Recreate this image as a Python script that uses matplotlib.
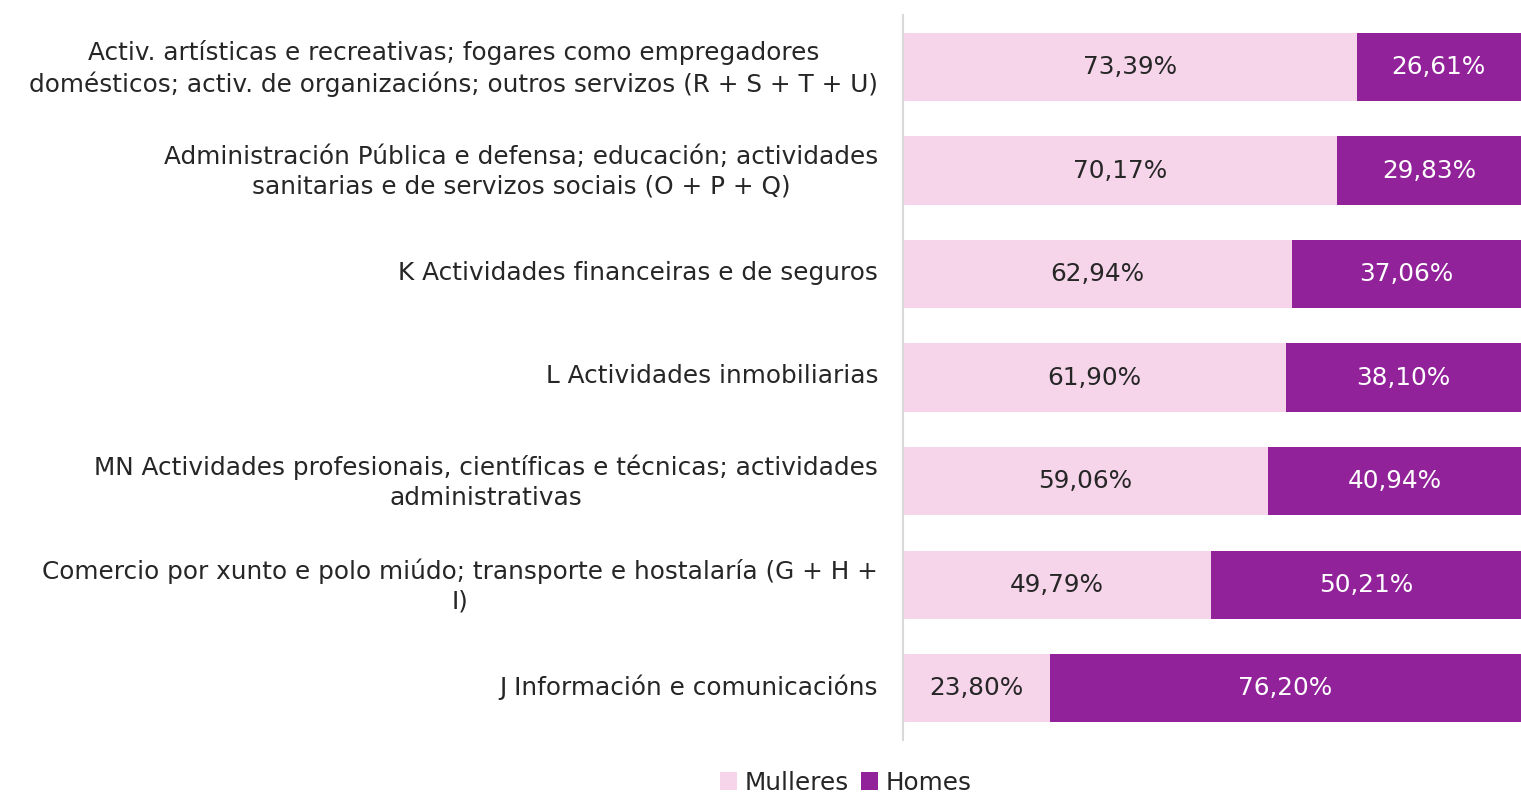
import matplotlib.pyplot as plt
import matplotlib.transforms as mtransforms
import numpy as np

plt.rcParams['font.family'] = ['DejaVu Sans']

categories = [
    'Activ. artísticas e recreativas; fogares como empregadores\ndomésticos; activ. de organizacións; outros servizos (R + S + T + U)',
    'Administración Pública e defensa; educación; actividades\nsanitarias e de servizos sociais (O + P + Q)',
    'K Actividades financeiras e de seguros',
    'L Actividades inmobiliarias',
    'MN Actividades profesionais, científicas e técnicas; actividades\nadministrativas',
    'Comercio por xunto e polo miúdo; transporte e hostalaría (G + H +\nI)',
    'J Información e comunicacións',
]
mulleres = [73.39, 70.17, 62.94, 61.90, 59.06, 49.79, 23.80]
homes = [26.61, 29.83, 37.06, 38.10, 40.94, 50.21, 76.20]

pink = '#f6d5ea'
purple = '#92229a'
fs = 17.8

fig = plt.figure(figsize=(15.21, 7.93), dpi=100)
ax = fig.add_axes([0.5937, 0.0668, 0.4063, 0.914])

y = np.arange(len(categories))
h = 0.66
b1 = ax.barh(y, mulleres, height=h, color=pink, label='Mulleres')
b2 = ax.barh(y, homes, left=mulleres, height=h, color=purple, label='Homes')

def fmt(v):
    return f'{v:.2f}%'.replace('.', ',')

for i in range(len(categories)):
    ax.text(mulleres[i] / 2, y[i], fmt(mulleres[i]), ha='center', va='center',
            fontsize=fs, color='#262626')
    ax.text(mulleres[i] + homes[i] / 2, y[i], fmt(homes[i]), ha='center', va='center',
            fontsize=fs, color='white')

ax.set_xlim(0, 100)
ax.set_ylim(len(categories) - 0.5, -0.5)
ax.set_yticks(y)
ax.set_yticklabels(categories, fontsize=fs, color='#262626', multialignment='center',
                   linespacing=1.3)
ax.tick_params(axis='y', length=0, pad=18)
ax.set_xticks([])
for s in ['top', 'right', 'bottom']:
    ax.spines[s].set_visible(False)
ax.spines['left'].set_color('#d9d9d9')
ax.spines['left'].set_linewidth(1.5)

# nudge the category labels up a little
shift = mtransforms.ScaledTranslation(0, 4 / 100, fig.dpi_scale_trans)
for lab in ax.get_yticklabels():
    lab.set_transform(lab.get_transform() + shift)

fig.legend(handles=[b1, b2], loc='center', bbox_to_anchor=(0.556, 0.013), ncol=2,
           frameon=False, fontsize=fs, handlelength=0.7, handleheight=0.7,
           handletextpad=0.3, columnspacing=0.5, labelcolor='#262626')

fig.savefig('out.png', dpi=100)
